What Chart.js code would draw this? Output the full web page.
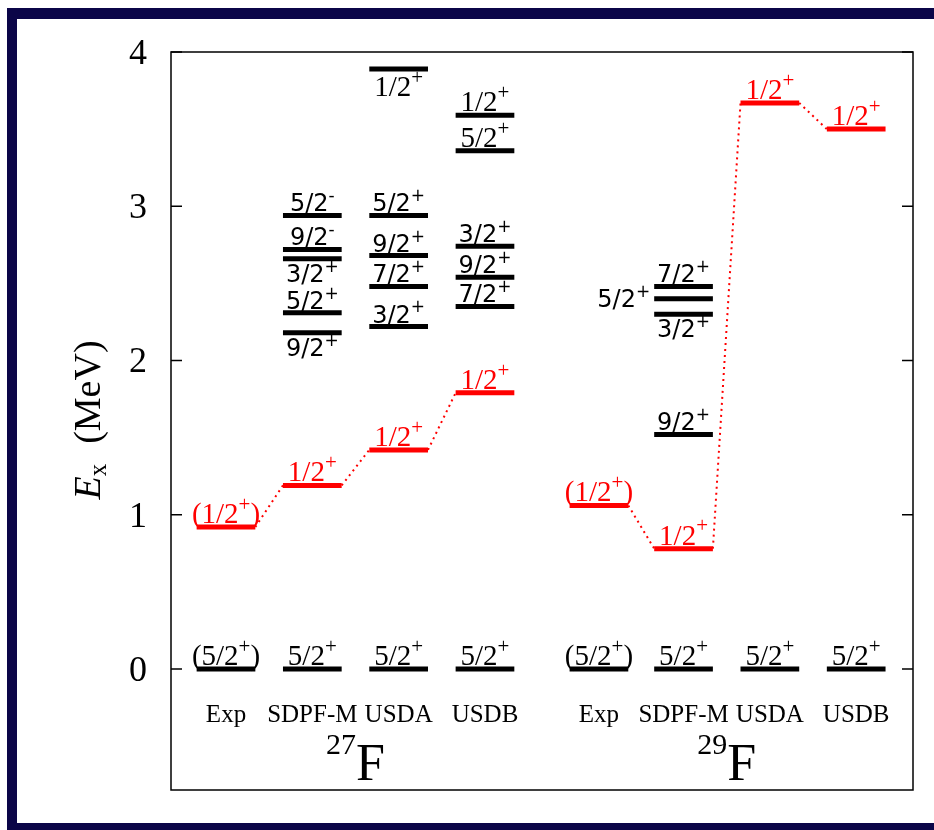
<!DOCTYPE html>
<html>
<head>
<meta charset="utf-8">
<script src="https://cdn.jsdelivr.net/npm/chart.js@4.4.1/dist/chart.umd.min.js"></script>
<style>
  body { margin: 0; background: #fff; }
  #wrap { width: 934px; height: 830px; }
</style>
</head>
<body>
<div id="wrap"><canvas id="levels" width="934" height="830"></canvas></div>
<script>
// column positions and labels
const methods = ["Exp", "SDPF-M", "USDA", "USDB"];
const cols27 = [1, 2, 3, 4];
const cols29 = [5.32, 6.3, 7.3, 8.3];
const yTicks = [0, 1, 2, 3, 4];

// ground states (MeV)
const ground = [0, 0, 0, 0];
const groundJ = ["(5/2+)", "5/2+", "5/2+", "5/2+"];

// 27F
const f27Half = [0.92, 1.19, 1.42, 1.79];
const f27HalfJ = ["(1/2+)", "1/2+", "1/2+", "1/2+"];
const f27SdpfE = [2.94, 2.72, 2.66, 2.31, 2.18];
const f27SdpfJ = ["5/2-", "9/2-", "3/2+", "5/2+", "9/2+"];
const f27UsdaE = [3.89, 2.94, 2.68, 2.48, 2.22];
const f27UsdaJ = ["1/2+", "5/2+", "9/2+", "7/2+", "3/2+"];
const f27UsdbE = [3.59, 3.36, 2.74, 2.54, 2.35];
const f27UsdbJ = ["1/2+", "5/2+", "3/2+", "9/2+", "7/2+"];

// 29F
const f29Half = [1.06, 0.78, 3.67, 3.50];
const f29HalfJ = ["(1/2+)", "1/2+", "1/2+", "1/2+"];
const f29SdpfE = [2.48, 2.40, 2.30, 1.52];
const f29SdpfJ = ["7/2+", "5/2+", "3/2+", "9/2+"];

// label placement: a = above, b = below, l = left
const f27SdpfSide = ["a", "a", "b", "a", "b"];
const f27UsdaSide = ["b", "a", "a", "a", "a"];
const f27UsdbSide = ["a", "a", "a", "a", "a"];
const f29SdpfSide = ["a", "l", "b", "a"];
const f27UsdaSerif = [true, false, false, false, false];
const f27UsdbSerif = [true, true, false, false, false];

const RED = "#ff0000";
const SERIF = "'Liberation Serif', 'Times New Roman', serif";
const SANS = "'DejaVu Sans', Verdana, sans-serif";
const hw = 0.34;

const levels = [];
function addLevels(x, es, js, color, sides, serif) {
    es.forEach((e, i) => {
        levels.push({
            x: x, e: e, j: js[i], color: color,
            side: sides ? sides[i] : "a",
            serif: serif ? serif[i] : true,
        });
    });
}
[cols27, cols29].forEach((cols, n) => {
    cols.forEach((c, i) => addLevels(c, [ground[i]], [groundJ[i]], "#000"));
    const half = n === 0 ? f27Half : f29Half;
    const halfJ = n === 0 ? f27HalfJ : f29HalfJ;
    cols.forEach((c, i) => addLevels(c, [half[i]], [halfJ[i]], RED));
});
const sdpfSerif27 = f27SdpfE.map(() => false);
const sdpfSerif29 = f29SdpfE.map(() => false);
addLevels(cols27[1], f27SdpfE, f27SdpfJ, "#000", f27SdpfSide, sdpfSerif27);
addLevels(cols27[2], f27UsdaE, f27UsdaJ, "#000", f27UsdaSide, f27UsdaSerif);
addLevels(cols27[3], f27UsdbE, f27UsdbJ, "#000", f27UsdbSide, f27UsdbSerif);
addLevels(cols29[1], f29SdpfE, f29SdpfJ, "#000", f29SdpfSide, sdpfSerif29);

const datasets = levels.map((l) => ({
    data: [{ x: l.x - hw, y: l.e }, { x: l.x + hw, y: l.e }],
    borderColor: l.color,
    borderWidth: 5,
    borderCapStyle: "butt",
    pointRadius: 0,
    fill: false,
}));

// dotted links between the 1/2+ states
[[cols27, f27Half], [cols29, f29Half]].forEach(([cols, half]) => {
    for (let i = 0; i < cols.length - 1; i++) {
        datasets.push({
            data: [{ x: cols[i] + hw, y: half[i] }, { x: cols[i + 1] - hw, y: half[i + 1] }],
            borderColor: RED,
            borderWidth: 2,
            borderDash: [2, 4],
            pointRadius: 0,
            fill: false,
        });
    }
});

function drawSpin(ctx, l, px, py) {
    const m = l.j.match(/^(\(?)([0-9\/]+)([+-])(\)?)$/);
    const fam = l.serif ? SERIF : SANS;
    const size = l.serif ? 29 : 24;
    const supSize = Math.round(size * 0.72);
    const pre = m[1] + m[2], sup = m[3], post = m[4];
    ctx.font = size + "px " + fam;
    const w1 = ctx.measureText(pre).width;
    const w3 = ctx.measureText(post).width;
    ctx.font = supSize + "px " + fam;
    const w2 = ctx.measureText(sup).width;
    const total = w1 + w2 + w3;
    let x0, base;
    if (l.side === "l") {
        x0 = px - total - 4;
        base = py + size * 0.35;
    } else if (l.side === "b") {
        x0 = px - total / 2;
        base = py + 6 + size * 0.72;
    } else {
        x0 = px - total / 2;
        base = py - 4;
    }
    ctx.fillStyle = l.color;
    ctx.textAlign = "left";
    ctx.textBaseline = "alphabetic";
    ctx.font = size + "px " + fam;
    ctx.fillText(pre, x0, base);
    ctx.fillText(post, x0 + w1 + w2, base);
    ctx.font = supSize + "px " + fam;
    ctx.fillText(sup, x0 + w1, base - size * 0.42);
}

const decor = {
    id: "decor",
    afterDraw(chart) {
        const { ctx, chartArea: a, scales } = chart;
        const xs = scales.x, ys = scales.y;
        ctx.save();
        // frame
        ctx.fillStyle = "#0b0548";
        ctx.fillRect(7, 8, 927, 11);
        ctx.fillRect(7, 8, 10, 822);
        ctx.fillRect(7, 823, 927, 7);
        // plot box
        ctx.strokeStyle = "#000";
        ctx.lineWidth = 1.5;
        ctx.strokeRect(a.left, a.top, a.right - a.left, a.bottom - a.top);
        // ticks and labels
        ctx.fillStyle = "#000";
        ctx.font = "36px " + SERIF;
        ctx.textAlign = "right";
        ctx.textBaseline = "alphabetic";
        yTicks.forEach((t) => {
            const y = ys.getPixelForValue(t);
            ctx.beginPath();
            ctx.moveTo(a.left, y); ctx.lineTo(a.left + 11, y);
            ctx.moveTo(a.right, y); ctx.lineTo(a.right - 11, y);
            ctx.stroke();
            ctx.fillText(String(t), 147, y + 12);
        });
        // axis title
        ctx.save();
        ctx.translate(100, 420);
        ctx.rotate(-Math.PI / 2);
        ctx.textAlign = "left";
        ctx.font = "italic 38px " + SERIF;
        const wE = ctx.measureText("E").width;
        ctx.font = "25px " + SERIF;
        const wx = ctx.measureText("x").width;
        ctx.font = "38px " + SERIF;
        const wm = ctx.measureText("(MeV)").width;
        const gap = 20;
        let x0 = -(wE + wx + gap + wm) / 2;
        ctx.font = "italic 38px " + SERIF;
        ctx.fillText("E", x0, 0);
        ctx.font = "25px " + SERIF;
        ctx.fillText("x", x0 + wE, 6);
        ctx.font = "38px " + SERIF;
        ctx.fillText("(MeV)", x0 + wE + wx + gap, 0);
        ctx.restore();
        // column and nucleus labels
        ctx.textAlign = "center";
        [[cols27, "27"], [cols29, "29"]].forEach(([cols, mass]) => {
            ctx.font = "25px " + SERIF;
            cols.forEach((c, i) => ctx.fillText(methods[i], xs.getPixelForValue(c), 722));
            const mid = xs.getPixelForValue((cols[1] + cols[2]) / 2);
            ctx.font = "30px " + SERIF;
            const wm2 = ctx.measureText(mass).width;
            ctx.font = "52px " + SERIF;
            const wf = ctx.measureText("F").width;
            const s = mid - (wm2 + wf) / 2;
            ctx.textAlign = "left";
            ctx.font = "30px " + SERIF;
            ctx.fillText(mass, s, 754);
            ctx.font = "52px " + SERIF;
            ctx.fillText("F", s + wm2, 780);
            ctx.textAlign = "center";
        });
        // spin labels
        levels.forEach((l) => {
            const py = ys.getPixelForValue(l.e);
            const px = l.side === "l" ? xs.getPixelForValue(l.x - hw) : xs.getPixelForValue(l.x);
            drawSpin(ctx, l, px, py);
        });
        ctx.restore();
    },
};

new Chart(document.getElementById("levels"), {
    type: "line",
    data: { datasets: datasets },
    options: {
        responsive: false,
        animation: false,
        layout: { padding: { left: 171, top: 52, right: 21, bottom: 40 } },
        plugins: { legend: { display: false }, tooltip: { enabled: false } },
        scales: {
            x: { type: "linear", min: 0.363, max: 8.958, display: false },
            y: { type: "linear", min: -0.785, max: 4, display: false },
        },
    },
    plugins: [decor],
});
</script>
</body>
</html>
